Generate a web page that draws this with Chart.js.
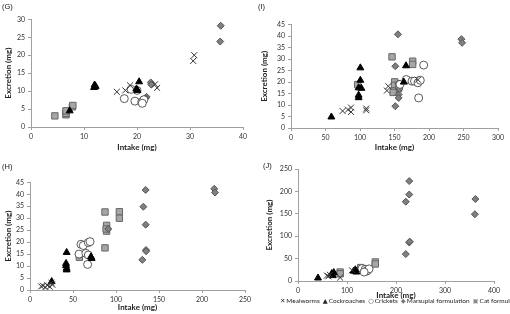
<!DOCTYPE html>
<html><head><meta charset="utf-8">
<script src="https://cdn.jsdelivr.net/npm/chart.js@4"></script>
<style>
html,body{margin:0;padding:0;background:#fff;width:510px;height:314px;overflow:hidden;font-family:Lato,"Liberation Sans",sans-serif;}
.panel{position:absolute;}
#legend{position:absolute;left:280px;top:297px;white-space:nowrap;font-size:6.5px;color:#222;}
#legend span.s{font-family:"DejaVu Sans";font-size:6.4px;margin-right:1px;}
#legend span.i{margin-right:3px;}
</style></head><body>
<div class="panel" style="left:0;top:0"><canvas id="cG" width="255" height="157"></canvas></div>
<div class="panel" style="left:255px;top:0"><canvas id="cI" width="255" height="157"></canvas></div>
<div class="panel" style="left:0;top:157px"><canvas id="cH" width="255" height="157"></canvas></div>
<div class="panel" style="left:255px;top:157px"><canvas id="cJ" width="255" height="157"></canvas></div>
<div id="legend"><span class="s">✕</span><span class="i">Mealworms</span><span class="s">▲</span><span class="i">Cockroaches</span><span class="s">○</span><span class="i">Crickets</span><span class="s" style="color:#777">◆</span><span class="i">Marsupial formulation</span><span class="s" style="color:#888">▣</span><span class="i">Cat formulation</span></div>
<script>
const seriesNames = ["Mealworms","Cockroaches","Crickets","Marsupial formulation","Cat formulation"];
const panelLabels = ["(G)","(I)","(H)","(J)"];

// Panel G
const gMealworms = [[16.2,9.8],[17.8,10.2],[18.7,11.6],[23.4,11.9],[23.8,10.9],[30.6,18.4],[30.8,20.0]];
const gCockroaches = [[7.3,4.5],[12.0,11.7],[12.1,11.2],[11.9,11.0],[12.2,11.3],[20.4,12.6],[19.9,10.6],[20.1,10.2]];
const gCrickets = [[17.6,7.9],[18.9,10.5],[19.6,7.2],[20.0,10.2],[20.9,7.0],[21.3,7.6],[21.0,6.6]];
const gMarsupial = [[21.8,8.4],[21.6,8.0],[22.6,12.4],[22.7,11.8],[35.8,28.2],[35.7,23.8]];
const gCat = [[4.5,3.1],[6.6,3.4],[6.6,3.8],[6.6,4.5],[7.8,5.6],[7.9,6.0]];
const gTicks = {xMax:40, xStep:10, yMax:30, yStep:5};

// Panel I
const iMealworms = [[74.8,7.4],[82.6,8.0],[87,8.9],[87,7.0],[109,8.5],[109,7.7],[139,16.3],[141,18.2],[184,21.0]];
const iCockroaches = [[58.5,4.8],[100.5,26.2],[100.5,20.8],[98,17.5],[102,17.3],[98,14.3],[98,13.2],[166.7,27.1],[163.5,20.0]];
const iCrickets = [[167,21.1],[175.4,20.4],[179,20.4],[184,19.7],[192.3,27.4],[185,13.1],[187.4,20.8],[158,19.0]];
const iMarsupial = [[155,40.8],[151.2,26.9],[151.2,9.5],[156,14.6],[156,13.1],[247,38.7],[248,37.1],[185,21.1],[156,19.4],[157,17.0]];
const iCat = [[146.4,31.0],[96.6,18.9],[150.2,20.1],[150,18.6],[149,16.2],[156,17.2],[176.3,29.1],[176.3,27.7],[148,15.5]];
const iTicks = {xMax:300, xStep:50, yMax:45, yStep:5};

// Panel H
const hMealworms = [[13,1.5],[15,1.8],[18,1.2],[20,2.0],[23,1.4],[25,3.0],[26,2.2]];
const hCockroaches = [[42.6,15.7],[41.9,11.1],[41.9,10.2],[42.6,9.1],[42.6,8.4],[70.9,13.9],[71.7,13.2],[25.2,3.5]];
const hCrickets = [[59.3,19.1],[62,18.6],[67.8,19.8],[69.8,20.2],[57,15.0],[65,15.3],[67.8,14.6],[67,10.7]];
const hMarsupial = [[134.5,41.8],[131.8,34.8],[134.5,27.3],[134.9,16.7],[135,16.2],[130.6,12.6],[214.3,42.3],[215.1,40.7],[91,25.5]];
const hCat = [[57.4,13.7],[87.2,32.6],[89.1,27.0],[89.1,24.6],[88.5,25.5],[87.2,17.6],[103.9,32.7],[103.9,30.0]];
const hTicks = {xMax:250, xStep:50, yMax:45, yStep:5};

// Panel J
const jMealworms = [[59,12],[62,10.5],[86,7.6],[110,24],[65,14]];
const jCockroaches = [[40.8,6.7],[69,16.5],[73,18.8],[71,12],[113.5,22],[119,20],[117,25]];
const jCrickets = [[130.6,27.7],[137,25.5],[141,22.4],[145,27],[135,20]];
const jMarsupial = [[227,223],[227,193],[220,177],[227,86],[228,88],[220,60],[362,183],[361,149],[130,28]];
const jCat = [[86,20],[86,16],[132,27.7],[157.8,42.5],[157.8,38],[128,30]];
const jTicks = {xMax:400, xStep:100, yMax:250, yStep:50};

const styles = [
  {pointStyle:'crossRot', radius:4.2, backgroundColor:'#333', borderColor:'#333', borderWidth:1},
  {pointStyle:'triangle', radius:4, backgroundColor:'#000', borderColor:'#000', borderWidth:1},
  {pointStyle:'circle', radius:4, backgroundColor:'#fff', borderColor:'#333', borderWidth:0.8},
  {pointStyle:'rectRot', radius:3.5, backgroundColor:'#7f7f7f', borderColor:'#555', borderWidth:1},
  {pointStyle:'rect', radius:4.5, backgroundColor:'#a6a6a6', borderColor:'#666', borderWidth:1}
];

const toPts = a => a.map(p => ({x:p[0], y:p[1]}));
const font = {family:'Lato, "Liberation Sans", sans-serif', size:7};
const titleFont = {family:'Lato, "Liberation Sans", sans-serif', size:8, weight:'bold'};

function makeChart(id, label, seriesList, t, g) {
  const datasets = seriesList.map((d,i) => ({
    label: seriesNames[i], data: toPts(d),
    pointRadius: styles[i].radius, pointStyle: styles[i].pointStyle,
    pointBackgroundColor: styles[i].backgroundColor, pointBorderColor: styles[i].borderColor,
    pointBorderWidth: styles[i].borderWidth, showLine:false
  }));
  return new Chart(document.getElementById(id), {
    type:'scatter',
    data:{datasets},
    options:{
      responsive:false, animation:false, devicePixelRatio:1,
      layout:{padding:{top:g.top, right:g.right, left:g.left, bottom:g.bottom}},
      plugins:{
        legend:{display:false}, tooltip:{enabled:false},
        title:{display:true, text:label, align:'start', color:'#111',
               font:{family:'"Liberation Sans", sans-serif', size:7.5, weight:'normal'},
               padding:{top:0, bottom:g.tb}}
      },
      scales:{
        x:{type:'linear', min:0, max:t.xMax,
           ticks:{stepSize:t.xStep, color:'#333', font, padding:3, maxRotation:0},
           grid:{display:true, drawOnChartArea:false, drawTicks:true, tickLength:3, color:'#a0a0a0'},
           border:{color:'#a0a0a0'},
           title:{display:true, text:'Intake (mg)', color:'#222', font:titleFont, padding:{top:2,bottom:2}},
           afterFit(s){ s.height = g.xh; }},
        y:{type:'linear', min:0, max:t.yMax,
           ticks:{stepSize:t.yStep, color:'#333', font, padding:3},
           grid:{display:true, drawOnChartArea:false, drawTicks:true, tickLength:3, color:'#a0a0a0'},
           border:{color:'#a0a0a0'},
           title:{display:true, text:'Excretion (mg)', color:'#222', font:titleFont, padding:{top:2,bottom:2}},
           afterFit(s){ s.width = g.yw; }}
      }
    }
  });
}

makeChart('cG', panelLabels[0], [gMealworms,gCockroaches,gCrickets,gMarsupial,gCat], gTicks, {top:2, tb:8.3, right:12, left:2, bottom:3, yw:29, xh:27});
makeChart('cI', panelLabels[1], [iMealworms,iCockroaches,iCrickets,iMarsupial,iCat], iTicks, {top:2, tb:13.7, right:12, left:3, bottom:3, yw:33, xh:26});
makeChart('cH', panelLabels[2], [hMealworms,hCockroaches,hCrickets,hMarsupial,hCat], hTicks, {top:5, tb:11.3, right:10, left:2, bottom:0, yw:28, xh:24});
makeChart('cJ', panelLabels[3], [jMealworms,jCockroaches,jCrickets,jMarsupial,jCat], jTicks, {top:4, tb:-1, right:16, left:8, bottom:12, yw:35, xh:21});
</script>
</body></html>
